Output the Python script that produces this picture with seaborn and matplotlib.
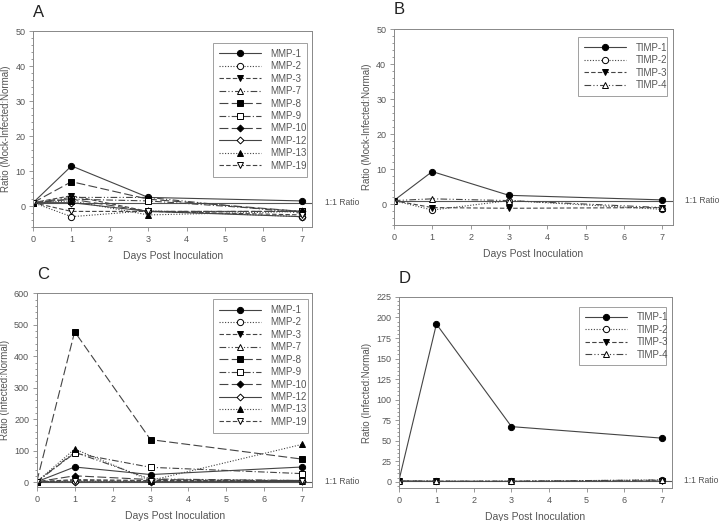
import numpy as np
import pandas as pd
import matplotlib
matplotlib.use("Agg")
import matplotlib.pyplot as plt
from matplotlib.ticker import AutoMinorLocator, MultipleLocator
import seaborn as sns

# Data (ratio per day post inoculation)
DAYS = [0, 1, 3, 7]

MMP_NAMES = ["MMP-1", "MMP-2", "MMP-3", "MMP-7", "MMP-8",
             "MMP-9", "MMP-10", "MMP-12", "MMP-13", "MMP-19"]
TIMP_NAMES = ["TIMP-1", "TIMP-2", "TIMP-3", "TIMP-4"]

# panel A: mock-infected : normal
mock_mmp = [
    [1, 11.5, 2.5, 1.5],
    [1, -3.0, -1.3, -3.0],
    [1, 3.0, -1.5, -1.5],
    [1, 2.5, 2.5, -2.0],
    [1, 7.0, 2.0, -1.5],
    [1, 2.0, 1.5, -1.5],
    [1, 2.0, -1.5, -1.5],
    [1, 1.0, -1.5, -3.0],
    [1, 1.5, -2.5, -1.5],
    [1, -1.5, -1.5, -2.5],
]
# panel B
mock_timp = [
    [1, 9.3, 2.5, 1.2],
    [1, -1.7, 1.0, -1.5],
    [1, -1.0, -1.2, -1.0],
    [1, 1.5, 1.0, -1.0],
]
# panel C: infected : normal
inf_mmp = [
    [1, 48, 24, 48],
    [1, 3, 2, 5],
    [1, 8, 5, 5],
    [1, 95, 10, 5],
    [1, 478, 135, 73],
    [1, 92, 47, 27],
    [1, 20, 8, 5],
    [1, 1, 1, 2],
    [1, 105, 5, 120],
    [1, 5, 3, 2],
]
# panel D
inf_timp = [
    [1, 192, 67, 53],
    [1, 0.5, 0.5, 2],
    [1, 0.5, 0.5, 1],
    [1, 0.5, 0.5, 2],
]

# line style per gene: (linestyle, marker, filled)
DOT = (0, (1, 1.5))
DASH = (0, (4, 2))
LONG = (0, (8, 3))
DASHDOT = (0, (6, 2, 1, 2))
DASHDOTDOT = (0, (6, 2, 1, 2, 1, 2))
MMP_STYLE = [
    ("-", "o", True), (DOT, "o", False), (DASH, "v", True),
    (DASHDOTDOT, "^", False), (LONG, "s", True), (DASHDOT, "s", False),
    (LONG, "D", True), ("-", "D", False), (DOT, "^", True), (DASH, "v", False),
]
TIMP_STYLE = [("-", "o", True), (DOT, "o", False), (DASH, "v", True),
              (DASHDOTDOT, "^", False)]

sns.set_style("ticks")
plt.rcParams["font.family"] = ["Liberation Sans", "DejaVu Sans"]

GREY = "#555555"
LINE = "#444444"

fig = plt.figure(figsize=(7.2, 5.21), dpi=100)

panels = [
    # letter, rect, names, values, styles, ylim, ystep, ylabel, legend bbox
    ("A", [0.046, 0.564, 0.3875, 0.376], MMP_NAMES, mock_mmp, MMP_STYLE,
     (-6, 50), 10, "Ratio (Mock-Infected:Normal)", (0.645, 0.43, 0.335, 0.51)),
    ("B", [0.547, 0.568, 0.3875, 0.376], TIMP_NAMES, mock_timp, TIMP_STYLE,
     (-6, 50), 10, "Ratio (Mock-Infected:Normal)", (0.66, 0.70, 0.32, 0.26)),
    ("C", [0.051, 0.065, 0.383, 0.372], MMP_NAMES, inf_mmp, MMP_STYLE,
     (-16, 600), 100, "Ratio (Infected:Normal)", (0.64, 0.41, 0.345, 0.56)),
    ("D", [0.554, 0.063, 0.379, 0.367], TIMP_NAMES, inf_timp, TIMP_STYLE,
     (-8, 225), 25, "Ratio (Infected:Normal)", (0.66, 0.71, 0.32, 0.24)),
]

for letter, rect, names, values, styles, ylim, ystep, ylabel, lbox in panels:
    ax = fig.add_axes(rect)
    for name, vals, (ls, mk, filled) in zip(names, values, styles):
        sns.lineplot(x=DAYS, y=vals, ax=ax, label=name, color=LINE,
                     linewidth=0.8, linestyle=ls, marker=mk,
                     markersize=4.5 if mk != "D" else 3.5,
                     markerfacecolor="black" if filled else "white",
                     markeredgecolor="black", markeredgewidth=0.7)

    # 1:1 reference line
    ax.axhline(1, color=GREY, linewidth=0.8, zorder=1)
    ax.annotate("1:1 Ratio", xy=(1.045, 1), xycoords=("axes fraction", "data"),
                fontsize=6.2, color=GREY, va="center", ha="left",
                annotation_clip=False)

    ax.set_xlim(0, 7.27)
    ax.set_ylim(*ylim)
    ax.xaxis.set_major_locator(MultipleLocator(1))
    ax.yaxis.set_major_locator(MultipleLocator(ystep))
    ax.yaxis.set_minor_locator(AutoMinorLocator(5))
    ax.tick_params(which="both", direction="out", colors="#888888",
                   labelcolor=GREY, labelsize=6.5, length=3, width=0.6, pad=2.5)
    ax.tick_params(which="minor", length=1.5)
    for sp in ax.spines.values():
        sp.set_color("#888888")
        sp.set_linewidth(0.7)

    ax.set_xlabel("Days Post Inoculation", fontsize=7.5, color=GREY, labelpad=5)
    ax.set_ylabel(ylabel, fontsize=7, color=GREY, labelpad=3)

    leg = ax.legend(loc="upper left", bbox_to_anchor=lbox, mode="expand",
                    fontsize=7, frameon=True, fancybox=False,
                    handlelength=4.3, handletextpad=1.0, labelspacing=0.25,
                    borderpad=0.6, borderaxespad=0)
    leg.get_frame().set_edgecolor("#888888")
    leg.get_frame().set_linewidth(0.7)
    for t in leg.get_texts():
        t.set_color(GREY)

    ax.text(0.0, 1.075, letter, transform=ax.transAxes, fontsize=12,
            color="#222222", ha="left", va="baseline")

fig.savefig("out.png", dpi=100)
